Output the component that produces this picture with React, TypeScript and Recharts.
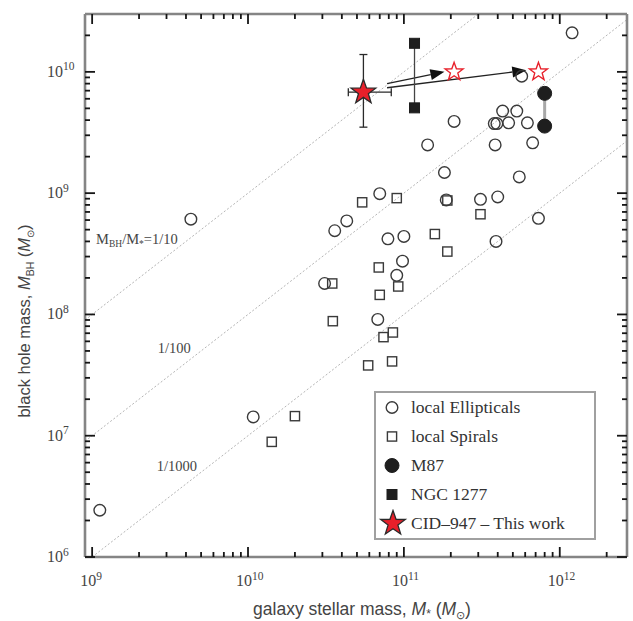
import React from "react";
import {
  ScatterChart,
  Scatter,
  XAxis,
  YAxis,
  ReferenceLine,
  ReferenceDot,
  ErrorBar,
  Legend,
  Label,
} from "recharts";

/* ── Axis setup ── */

const X_DOMAIN = [9e8, 2.7e12];
const Y_DOMAIN = [1e6, 3e10];
const X_MAJOR = [1e9, 1e10, 1e11, 1e12];
const Y_MAJOR = [1e6, 1e7, 1e8, 1e9, 1e10];
const MINOR_STEPS = [2, 3, 4, 5, 6, 7, 8, 9];

/* ── Data (stellar mass m, black hole mass bh) ── */

const ELLIPTICALS = [
  { m: 1.2e12, bh: 2.1e10 },
  { m: 5.7e11, bh: 9.2e9 },
  { m: 4.3e11, bh: 4.75e9 },
  { m: 5.3e11, bh: 4.75e9 },
  { m: 2.1e11, bh: 3.9e9 },
  { m: 3.8e11, bh: 3.75e9 },
  { m: 3.95e11, bh: 3.75e9 },
  { m: 4.7e11, bh: 3.8e9 },
  { m: 6.2e11, bh: 3.8e9 },
  { m: 1.42e11, bh: 2.5e9 },
  { m: 3.85e11, bh: 2.5e9 },
  { m: 6.7e11, bh: 2.6e9 },
  { m: 1.82e11, bh: 1.48e9 },
  { m: 5.5e11, bh: 1.36e9 },
  { m: 7.0e10, bh: 9.9e8 },
  { m: 1.87e11, bh: 8.8e8 },
  { m: 3.1e11, bh: 8.9e8 },
  { m: 4.0e11, bh: 9.3e8 },
  { m: 7.3e11, bh: 6.2e8 },
  { m: 7.9e10, bh: 4.2e8 },
  { m: 1.0e11, bh: 4.4e8 },
  { m: 3.9e11, bh: 4.0e8 },
  { m: 9.8e10, bh: 2.75e8 },
  { m: 9.0e10, bh: 2.1e8 },
  { m: 4.3e10, bh: 5.9e8 },
  { m: 3.6e10, bh: 4.9e8 },
  { m: 4.3e9, bh: 6.1e8 },
  { m: 3.1e10, bh: 1.8e8 },
  { m: 6.8e10, bh: 9.1e7 },
  { m: 1.08e10, bh: 1.43e7 },
  { m: 1.12e9, bh: 2.43e6 },
];

const SPIRALS = [
  { m: 5.4e10, bh: 8.4e8 },
  { m: 9.0e10, bh: 9.1e8 },
  { m: 1.9e11, bh: 8.7e8 },
  { m: 3.1e11, bh: 6.7e8 },
  { m: 1.58e11, bh: 4.6e8 },
  { m: 1.9e11, bh: 3.3e8 },
  { m: 6.9e10, bh: 2.44e8 },
  { m: 9.2e10, bh: 1.7e8 },
  { m: 3.47e10, bh: 1.8e8 },
  { m: 7.0e10, bh: 1.45e8 },
  { m: 3.5e10, bh: 8.8e7 },
  { m: 8.5e10, bh: 7.1e7 },
  { m: 7.4e10, bh: 6.5e7 },
  { m: 5.9e10, bh: 3.8e7 },
  { m: 8.4e10, bh: 4.1e7 },
  { m: 2.0e10, bh: 1.45e7 },
  { m: 1.42e10, bh: 8.9e6 },
];

const M87 = [
  { m: 8.0e11, bh: 6.65e9 },
  { m: 8.0e11, bh: 3.57e9 },
];

const NGC1277 = [
  { m: 1.17e11, bh: 1.72e10 },
  { m: 1.17e11, bh: 5.05e9 },
];

// errors are [below, above] the value
const CID947 = [{ m: 5.5e10, bh: 6.8e9, ex: [1.1e10, 2.8e10], ey: [3.3e9, 7.1e9] }];

const CID947_SHIFTED = [
  { m: 2.1e11, bh: 1.0e10 },
  { m: 7.3e11, bh: 1.0e10 },
];

const ARROWS = [
  { from: { x: 7.8e10, y: 8.0e9 }, to: { x: 1.82e11, y: 1.0e10 } },
  { from: { x: 7.8e10, y: 7.4e9 }, to: { x: 6.1e11, y: 1.03e10 } },
];

const RATIO_LINES = [
  { from: { x: 9e8, y: 9e7 }, to: { x: 3e11, y: 3e10 } },
  { from: { x: 9e8, y: 9e6 }, to: { x: 2.7e12, y: 2.7e10 } },
  { from: { x: 1e9, y: 1e6 }, to: { x: 2.7e12, y: 2.7e9 } },
];

const RATIO_LABELS = [
  { x: 1.06e9, y: 4.2e8, text: "1/10", full: true },
  { x: 2.64e9, y: 5.25e7, text: "1/100", full: false },
  { x: 2.6e9, y: 5.6e6, text: "1/1000", full: false },
];

const LEGEND_ITEMS = [
  { key: "ell", label: "local Ellipticals" },
  { key: "spi", label: "local Spirals" },
  { key: "m87", label: "M87" },
  { key: "ngc", label: "NGC 1277" },
  { key: "cid", label: "CID\u2013947 \u2013 This work" },
];

/* ── Layout ── */

const CHART_W = 633;
const CHART_H = 621;
const MARGIN = { top: 13, right: 5, bottom: 0, left: 0 };
const TOP_AXIS_H = 1;
const BOTTOM_AXIS_H = 64;
const PLOT_H = CHART_H - MARGIN.top - TOP_AXIS_H - BOTTOM_AXIS_H;

/* ── Helpers ── */

const SERIF = "'Liberation Serif', 'Times New Roman', serif";
const SANS = "'Liberation Sans', Arial, sans-serif";
const RED = "#e8202a";
const INK = "#2a2a2a";
const TICK = "#151515";
const FRAME = "#858585";

function expandTicks(majors: number[], hi: number) {
  const out: number[] = [];
  majors.forEach((m) => {
    out.push(m);
    MINOR_STEPS.forEach((s) => {
      if (m * s < hi) out.push(m * s);
    });
  });
  return out;
}

const X_TICKS = expandTicks(X_MAJOR, X_DOMAIN[1]);
const Y_TICKS = expandTicks(Y_MAJOR, Y_DOMAIN[1]);

const isMajor = (v: number) => Math.abs(Math.log10(v) - Math.round(Math.log10(v))) < 1e-6;
const expOf = (v: number) => Math.round(Math.log10(v));

function starPoints(cx: number, cy: number, R: number, r: number) {
  const pts: string[] = [];
  for (let i = 0; i < 10; i++) {
    const a = -Math.PI / 2 + (i * Math.PI) / 5;
    const rad = i % 2 === 0 ? R : r;
    pts.push(`${cx + rad * Math.cos(a)},${cy + rad * Math.sin(a)}`);
  }
  return pts.join(" ");
}

/* ── Ticks (inward, all four sides) ── */

function PowerLabel({ x, y, exp }: { x: number; y: number; exp: number }) {
  return (
    <text x={x} y={y} fontFamily={SERIF} fontSize={16} fill="#444">
      10
      <tspan dy={-6.5} fontSize={11.5}>
        {exp}
      </tspan>
    </text>
  );
}

// bottom axis draws its own ticks and the matching ones on the top frame
function BottomTick(props: any) {
  const { x, y, payload } = props;
  const major = isMajor(payload.value);
  const len = major ? 10 : 5;
  const top = y - PLOT_H;
  return (
    <g>
      <line x1={x} y1={y} x2={x} y2={y - len} stroke={TICK} strokeWidth={1.8} />
      <line x1={x} y1={top} x2={x} y2={top + len} stroke={TICK} strokeWidth={1.8} />
      {major && <PowerLabel x={x - 12} y={y + 29} exp={expOf(payload.value)} />}
    </g>
  );
}

function LeftTick(props: any) {
  const { x, y, payload } = props;
  const major = isMajor(payload.value);
  return (
    <g>
      <line x1={x} y1={y} x2={x + (major ? 10 : 5)} y2={y} stroke={TICK} strokeWidth={1.8} />
      {major && <PowerLabel x={x - 38} y={y + 5} exp={expOf(payload.value)} />}
    </g>
  );
}

function RightTick(props: any) {
  const { x, y, payload } = props;
  const major = isMajor(payload.value);
  return <line x1={x} y1={y} x2={x - (major ? 10 : 5)} y2={y} stroke={TICK} strokeWidth={1.8} />;
}

/* ── Axis titles ── */

function XTitle(props: any) {
  const { viewBox } = props;
  return (
    <text x={viewBox.x + 277} y={viewBox.y + 58} textAnchor="middle" fontFamily={SANS} fontSize={17.5} fill="#444">
      galaxy stellar mass, <tspan fontStyle="italic">M</tspan>
      <tspan fontSize={12} dy={3}>*</tspan>
      <tspan dy={-3}> (</tspan>
      <tspan fontStyle="italic">M</tspan>
      <tspan fontSize={10.5} dy={4}>{"\u2299"}</tspan>
      <tspan dy={-4}>)</tspan>
    </text>
  );
}

function YTitle(props: any) {
  const { viewBox } = props;
  const cx = 30;
  const cy = viewBox.y + 307;
  return (
    <text
      x={cx}
      y={cy}
      transform={`rotate(-90 ${cx} ${cy})`}
      textAnchor="middle"
      fontFamily={SANS}
      fontSize={16.5}
      fill="#444"
    >
      black hole mass, <tspan fontStyle="italic">M</tspan>
      <tspan fontSize={10.5} dy={4}>BH</tspan>
      <tspan dy={-4}> (</tspan>
      <tspan fontStyle="italic">M</tspan>
      <tspan fontSize={10} dy={4}>{"\u2299"}</tspan>
      <tspan dy={-4}>)</tspan>
    </text>
  );
}

/* ── Marker shapes ── */

const OpenCircle = (p: any) => <circle cx={p.cx} cy={p.cy} r={5.8} fill="none" stroke="#3a3a3a" strokeWidth={1.4} />;
const OpenSquare = (p: any) => (
  <rect x={p.cx - 4.6} y={p.cy - 4.6} width={9.2} height={9.2} fill="none" stroke="#3a3a3a" strokeWidth={1.4} />
);
const FilledCircle = (p: any) => <circle cx={p.cx} cy={p.cy} r={7} fill="#1e1e1e" stroke="#1e1e1e" />;
const FilledSquare = (p: any) => (
  <rect x={p.cx - 5} y={p.cy - 5} width={10} height={10} fill="#1e1e1e" stroke="#1e1e1e" />
);
const BigStar = (p: any) => (
  <polygon points={starPoints(p.cx, p.cy, 13, 5.2)} fill={RED} stroke={INK} strokeWidth={1.3} strokeLinejoin="miter" />
);
const OpenStar = (p: any) => (
  <polygon points={starPoints(p.cx, p.cy, 9.5, 3.9)} fill="#fff" stroke={RED} strokeWidth={1.4} />
);

function ArrowShape(props: any) {
  const { x1, y1, x2, y2 } = props;
  const ang = Math.atan2(y2 - y1, x2 - x1);
  const len = 14;
  const half = 5.5;
  const bx = x2 - len * Math.cos(ang);
  const by = y2 - len * Math.sin(ang);
  const px = -Math.sin(ang) * half;
  const py = Math.cos(ang) * half;
  return (
    <g>
      <line x1={x1} y1={y1} x2={bx} y2={by} stroke="#222" strokeWidth={1.4} />
      <polygon points={`${x2},${y2} ${bx + px},${by + py} ${bx - px},${by - py}`} fill="#111" />
    </g>
  );
}

function RatioLabel({ cx, cy, text, full }: any) {
  return (
    <text x={cx} y={cy + 5} fontFamily={SERIF} fontSize={14.5} fill="#444">
      {full && (
        <>
          M<tspan fontSize={9.5} dy={3.5}>BH</tspan>
          <tspan dy={-3.5}>/M</tspan>
          <tspan fontSize={9.5} dy={3.5}>*</tspan>
          <tspan dy={-3.5}>=</tspan>
        </>
      )}
      {text}
    </text>
  );
}

/* ── Legend ── */

function LegendIcon({ k }: { k: string }) {
  return (
    <svg width={32} height={29} viewBox="0 0 32 29">
      {k === "ell" && <OpenCircle cx={16} cy={14.5} />}
      {k === "spi" && <OpenSquare cx={16} cy={14.5} />}
      {k === "m87" && <FilledCircle cx={16} cy={14.5} />}
      {k === "ngc" && <FilledSquare cx={16} cy={14.5} />}
      {k === "cid" && <BigStar cx={17} cy={14.5} />}
    </svg>
  );
}

function LegendBox() {
  return (
    <div
      style={{
        border: "2px solid #a0a0a0",
        background: "#fff",
        fontFamily: SERIF,
        fontSize: 17.5,
        color: "#333",
      }}
    >
      {LEGEND_ITEMS.map((it) => (
        <div key={it.key} style={{ display: "flex", alignItems: "center", height: 29 }}>
          <LegendIcon k={it.key} />
          <span style={{ marginLeft: 3, whiteSpace: "nowrap" }}>{it.label}</span>
        </div>
      ))}
    </div>
  );
}

/* ── Chart ── */

export default function App() {
  return (
    <div style={{ position: "absolute", left: 0, top: 0, background: "#fff" }}>
      <ScatterChart width={CHART_W} height={CHART_H} margin={MARGIN}>
        <XAxis
          type="number"
          dataKey="m"
          scale="log"
          domain={X_DOMAIN}
          allowDataOverflow
          ticks={X_TICKS}
          interval={0}
          tick={<BottomTick />}
          tickLine={false}
          tickSize={0}
          tickMargin={0}
          height={BOTTOM_AXIS_H}
          axisLine={{ stroke: FRAME, strokeWidth: 2.6 }}
        >
          <Label content={<XTitle />} />
        </XAxis>
        <XAxis
          xAxisId="top"
          orientation="top"
          type="number"
          scale="log"
          domain={X_DOMAIN}
          allowDataOverflow
          ticks={[]}
          tick={false}
          tickLine={false}
          height={TOP_AXIS_H}
          axisLine={{ stroke: FRAME, strokeWidth: 2.6 }}
        />
        <YAxis
          type="number"
          dataKey="bh"
          scale="log"
          domain={Y_DOMAIN}
          allowDataOverflow
          ticks={Y_TICKS}
          interval={0}
          tick={<LeftTick />}
          tickLine={false}
          tickSize={0}
          tickMargin={0}
          width={85}
          axisLine={{ stroke: FRAME, strokeWidth: 2.6 }}
        >
          <Label content={<YTitle />} />
        </YAxis>
        <YAxis
          yAxisId="right"
          orientation="right"
          type="number"
          scale="log"
          domain={Y_DOMAIN}
          allowDataOverflow
          ticks={Y_TICKS}
          interval={0}
          tick={<RightTick />}
          tickLine={false}
          tickSize={0}
          tickMargin={0}
          width={1}
          axisLine={{ stroke: FRAME, strokeWidth: 2.6 }}
        />

        {RATIO_LINES.map((l, i) => (
          <ReferenceLine
            key={`ratio-${i}`}
            segment={[l.from, l.to]}
            stroke="#b5b5b5"
            strokeWidth={1}
            strokeDasharray="2 2"
          />
        ))}
        {RATIO_LABELS.map((l, i) => (
          <ReferenceDot
            key={`rl-${i}`}
            x={l.x}
            y={l.y}
            r={0}
            shape={(p: any) => <RatioLabel cx={p.cx} cy={p.cy} text={l.text} full={l.full} />}
          />
        ))}

        <Scatter data={ELLIPTICALS} shape={OpenCircle} isAnimationActive={false} />
        <Scatter data={SPIRALS} shape={OpenSquare} isAnimationActive={false} />
        <Scatter
          data={M87}
          shape={FilledCircle}
          line={{ stroke: "#a8a8a8", strokeWidth: 3 }}
          isAnimationActive={false}
        />
        <Scatter
          data={NGC1277}
          shape={FilledSquare}
          line={{ stroke: "#444", strokeWidth: 1.3 }}
          isAnimationActive={false}
        />
        <Scatter data={CID947_SHIFTED} shape={OpenStar} isAnimationActive={false} />

        {ARROWS.map((a, i) => (
          <ReferenceLine key={`arrow-${i}`} segment={[a.from, a.to]} shape={ArrowShape} />
        ))}

        <Scatter data={CID947} shape={BigStar} isAnimationActive={false}>
          <ErrorBar dataKey="ey" direction="y" width={4} stroke={INK} strokeWidth={1.3} />
          <ErrorBar dataKey="ex" direction="x" width={4} stroke={INK} strokeWidth={1.3} />
        </Scatter>

        <Legend
          layout="vertical"
          align="center"
          verticalAlign="middle"
          content={<LegendBox />}
          wrapperStyle={{ left: 374, top: 391, width: 222 }}
        />
      </ScatterChart>
    </div>
  );
}
